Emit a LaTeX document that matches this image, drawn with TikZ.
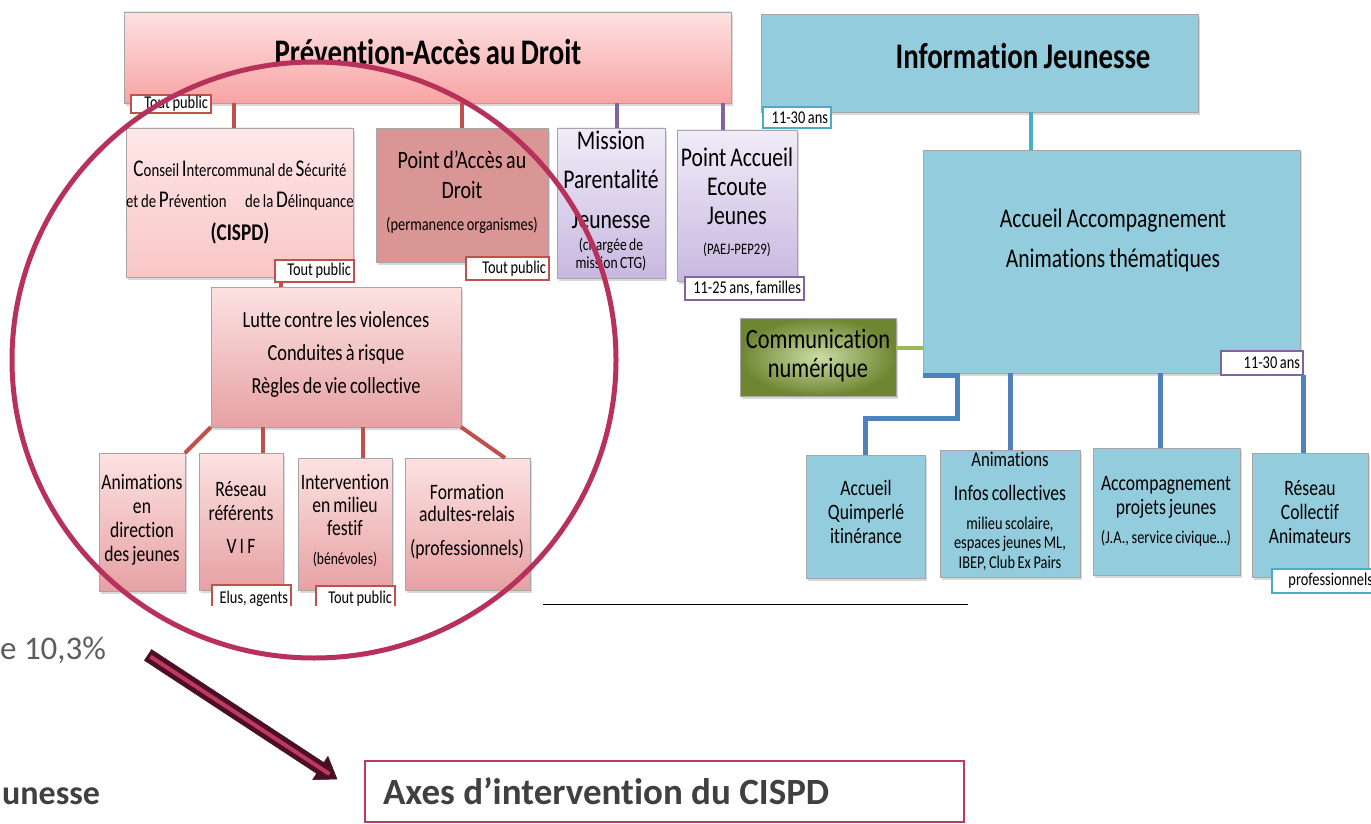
\documentclass[tikz,border=0pt]{standalone}
\usepackage{fontspec}
\setmainfont[Ligatures=NoCommon,RawFeature=-calt,RawFeature=-clig]{Carlito}
\newfontfamily\chartfont[FakeStretch=0.8,WordSpace=0.8,Ligatures=NoCommon,RawFeature=-calt,RawFeature=-clig]{Carlito}
\usetikzlibrary{shadows,calc,shapes.geometric}
\definecolor{pinkTop}{HTML}{FDE2E2}
\definecolor{pinkBot}{HTML}{F8A3A3}
\definecolor{lightTop}{HTML}{FFE7E7}
\definecolor{lightBot}{HTML}{F9C6C6}
\definecolor{midTop}{HTML}{FDE2E2}
\definecolor{midBot}{HTML}{E6A1A3}
\definecolor{rose}{HTML}{D99694}
\definecolor{lavTop}{HTML}{F0ECF8}
\definecolor{lavBot}{HTML}{C8B8E0}
\definecolor{chartblue}{HTML}{93CDDD}
\definecolor{greenIn}{HTML}{CADDA4}
\definecolor{greenOut}{HTML}{6E8632}
\definecolor{boxgray}{HTML}{A6A6A6}
\definecolor{tagred}{HTML}{C0504D}
\definecolor{tagpurple}{HTML}{8064A2}
\definecolor{tagteal}{HTML}{4BACC6}
\definecolor{greenline}{HTML}{9BBB59}
\definecolor{blueline}{HTML}{4F81BD}
\definecolor{circcol}{HTML}{B7315B}
\definecolor{arrowdark}{HTML}{4A0F25}
\definecolor{arrowpink}{HTML}{C0395F}
\definecolor{slidegray}{HTML}{404040}
\newcommand\cf[2]{\chartfont\fontsize{#1}{#2}\selectfont}
\newcommand\ini[1]{{\fontsize{24}{31}\selectfont #1}}
\newcommand\bx[6]{%
  \pgfmathsetmacro\bxw{#4-#2}\pgfmathsetmacro\bxh{#5-#3}%
  \node[#6, minimum width=\bxw pt, minimum height=\bxh pt] (#1) at ({(#2+#4)/2},{(#3+#5)/2}) {};}
\newcommand\tg[7]{%
  \pgfmathsetmacro\tgw{#4-#2}\pgfmathsetmacro\tgh{#5-#3}%
  \node[tagbox, draw=#6, minimum width=\tgw pt, minimum height=\tgh pt] (#1) at ({(#2+#4)/2},{(#3+#5)/2}) {};
  \node[tagtext] (#1T) at ([xshift=-3pt]#1.east) {#7};}
\tikzset{
  every node/.style={inner sep=0pt, outer sep=0pt},
  chartbox/.style={draw=boxgray, line width=0.8pt,
    drop shadow={shadow xshift=2pt, shadow yshift=-3pt, opacity=0.3}},
  pinkhead/.style={chartbox, top color=pinkTop, bottom color=pinkBot},
  pinklight/.style={chartbox, top color=lightTop, bottom color=lightBot},
  pinkmid/.style={chartbox, top color=midTop, bottom color=midBot},
  rosebox/.style={chartbox, fill=rose},
  lavbox/.style={chartbox, top color=lavTop, bottom color=lavBot},
  bluebox/.style={chartbox, fill=chartblue},
  greenbox/.style={chartbox, inner color=greenIn, outer color=greenOut},
  tagbox/.style={fill=white, line width=1.5pt},
  tagtext/.style={anchor=east, font=\cf{18}{20}},
  ct/.style={align=center, anchor=base},
  redline/.style={draw=tagred, line width=4pt},
  purpleline/.style={draw=tagpurple, line width=4pt},
  tealline/.style={draw=tagteal, line width=4pt},
  grline/.style={draw=greenline, line width=4pt},
  bline/.style={draw=blueline, line width=5pt},
  ringstyle/.style={draw=circcol, line width=5pt, ellipse},
}
\begin{document}
\begin{tikzpicture}[x=1pt,y=-1pt]
\useasboundingbox (0,0) rectangle (1371,824);
\fill[white] (0,0) rectangle (1371,824);
\begin{scope}
\clip (0,0) rectangle (1371,605);
% boxes
\bx{prev}{124}{12}{731}{103}{pinkhead}
\bx{info}{761}{14}{1198}{112}{bluebox}
\bx{cispd}{126}{128}{353}{277}{pinklight}
\bx{pad}{376}{128}{548}{262}{rosebox}
\bx{mission}{557}{128}{665}{278}{lavbox}
\bx{paej}{677}{130}{797}{281}{lavbox}
\bx{accueil}{923}{150}{1300}{373}{bluebox}
\bx{comm}{740}{318}{896}{396}{greenbox}
\bx{lutte}{211}{287}{461}{427}{pinkmid}
\bx{anim}{99}{453}{185}{591}{pinkmid}
\bx{reseau}{199}{453}{283}{590}{pinkmid}
\bx{interv}{298}{458}{392}{590}{pinkmid}
\bx{form}{405}{458}{530}{590}{pinkmid}
\bx{aq}{806}{455}{925}{578}{bluebox}
\bx{animinfo}{940}{450}{1080}{577}{bluebox}
\bx{accomp}{1093}{448}{1240}{575}{bluebox}
\bx{rescol}{1252}{453}{1368}{577}{bluebox}
% texts (anchor=base is the baseline of the last line)
\node[ct, font=\cf{36}{40}\bfseries] (prevT) at (428,65) {Prévention-Accès au Droit};
\node[ct, font=\cf{36}{40}\bfseries] (infoT) at (1023,69) {Information Jeunesse};
\node[ct, font=\cf{18.5}{31}] (cispdT) at (240,207) {\ini{C}onseil \ini{I}ntercommunal de \ini{S}écurité\\et de \ini{P}révention\quad de la \ini{D}élinquance};
\node[ct, font=\cf{24}{28}\bfseries] (cispdT2) at (240,240) {(CISPD)};
\node[ct, font=\cf{25}{30}] (padT) at (462,198) {Point d’Accès au\\Droit};
\node[ct, font=\cf{18}{20}] (padT2) at (462,230) {(permanence organismes)};
\node[ct, font=\cf{27}{39.5}] (missionT) at (611,228) {Mission\\Parentalité\\Jeunesse};
\node[ct, font=\cf{17}{18}] (missionT2) at (611,268) {(chargée de\\mission CTG)};
\node[ct, font=\cf{27}{29}] (paejT) at (737,224) {Point Accueil\\Ecoute\\Jeunes};
\node[ct, font=\cf{16}{18}] (paejT2) at (737,254) {(PAEJ-PEP29)};
\node[ct, font=\cf{27}{40}] (accT) at (1113,267) {Accueil Accompagnement\\Animations thématiques};
\node[ct, font=\cf{28}{29}] (commT) at (818,377) {Communication\\numérique};
\node[ct, font=\cf{23}{33}] (lutteT) at (336,393) {Lutte contre les violences\\Conduites à risque\\Règles de vie collective};
\node[ct, font=\cf{22}{23.7}] (animT) at (142,561) {Animations\\en\\direction\\des jeunes};
\node[ct, font=\cf{22}{24}] (reseauT) at (241,520) {Réseau\\référents};
\node[ct, font=\cf{22}{24}] (vifT) at (241,553) {V I F};
\node[ct, font=\cf{22}{23}] (intervT) at (345,535) {Intervention\\en milieu\\festif};
\node[ct, font=\cf{17}{18}] (benevT) at (345,564) {(bénévoles)};
\node[ct, font=\cf{22}{22}] (formT) at (467,521) {Formation\\adultes-relais};
\node[ct, font=\cf{22}{22}] (formT2) at (467,555) {(professionnels)};
\node[ct, font=\cf{22}{24}] (aqT) at (866,543) {Accueil\\Quimperlé\\itinérance};
\node[ct, font=\cf{21}{22}] (aiT1) at (1010,466) {Animations};
\node[ct, font=\cf{22}{22}] (aiT2) at (1010,500) {Infos collectives};
\node[ct, font=\cf{18}{19.5}] (aiT3) at (1010,568) {milieu scolaire,\\espaces jeunes ML,\\IBEP, Club Ex Pairs};
\node[ct, font=\cf{22}{24}] (acT1) at (1166,514) {Accompagnement\\projets jeunes};
\node[ct, font=\cf{18}{20}] (acT2) at (1166,543) {(J.A., service civique…)};
\node[ct, font=\cf{22}{24}] (rcT) at (1310,543) {Réseau\\Collectif\\Animateurs};
% connectors
\coordinate (k1) at ($(cispd.north west)!0.476!(cispd.north east)$);
\draw[redline] (k1) -- (k1 |- prev.south);
\draw[redline] (pad.north) -- (pad.north |- prev.south);
\coordinate (k2) at ($(mission.north west)!0.556!(mission.north east)$);
\draw[purpleline] (k2) -- (k2 |- prev.south);
\coordinate (k3) at ($(paej.north west)!0.383!(paej.north east)$);
\draw[purpleline] (k3) -- (k3 |- prev.south);
\coordinate (k4) at ($(accueil.north west)!0.286!(accueil.north east)$);
\draw[tealline] (k4) -- (k4 |- info.south);
\draw[grline] ([yshift=9pt]comm.east) -- ([yshift=9pt]comm.east -| accueil.west);
\draw[redline] (lutte.south west) -- (anim.north east);
\coordinate (k6) at ($(reseau.north west)!0.76!(reseau.north east)$);
\draw[redline] (k6) -- (k6 |- lutte.south);
\coordinate (k7) at ($(interv.north west)!0.69!(interv.north east)$);
\draw[redline] (k7) -- (k7 |- lutte.south);
\coordinate (k8) at ($(form.north west)!0.8!(form.north east)$);
\draw[redline] (lutte.south east) -- (k8);
\draw[bline] ([yshift=-2pt]accueil.south west) -- ++(34,0) -- ++(0,43) -| (aq.north);
\draw[bline] (animinfo.north) -- (animinfo.north |- accueil.south);
\coordinate (k9) at ($(accomp.north west)!0.46!(accomp.north east)$);
\draw[bline] (k9) -- (k9 |- accueil.south);
% tags
\tg{tp1}{131}{95}{211}{113}{tagred}{Tout public}
\tg{tp2}{275}{260}{354}{282}{tagred}{Tout public}
\tg{tp3}{466}{257}{549}{280}{tagred}{Tout public}
\tg{fam}{685}{277}{804}{300}{tagpurple}{11-25 ans, familles}
\tg{ans1}{763}{107}{831}{128}{tagteal}{11-30 ans}
\tg{ans2}{1221}{351}{1303}{375}{tagpurple}{11-30 ans}
\tg{elus}{212}{585}{291}{612}{tagred}{Elus, agents}
\tg{tp4}{316}{586}{395}{612}{tagred}{Tout public}
\tg{prof}{1272}{569}{1376}{593}{tagteal}{professionnels}
\coordinate (k5) at ($(lutte.north west)!0.28!(lutte.north east)$);
\draw[redline] (k5) -- (k5 |- tp2.south);
\coordinate (k10) at ($(rescol.north west)!0.44!(rescol.north east)$);
\draw[bline] (k10) -- (k10 |- ans2.south);
\end{scope}
\coordinate (u1) at (543,604);
\coordinate (u2) at (968,604);
\draw[black, line width=0.9pt] (u1) -- (u2);
% ring
\node[ringstyle, minimum width=604pt, minimum height=596pt] (ring) at (314,360) {};
% slide text
\node[anchor=base east, font=\fontsize{33}{36}\selectfont, text=slidegray!85] (pct) at (106,659) {e 10,3\%};
\node[anchor=base east, font=\fontsize{34}{38}\selectfont\bfseries, text=slidegray] (jeu) at (100,804) {unesse};
\node[draw=arrowpink, line width=2pt, minimum width=599pt, minimum height=61pt] (axes) at (664.5,791.5) {};
\node[anchor=base west, font=\fontsize{37}{40}\selectfont\bfseries, text=slidegray] (axesT) at (383,804) {Axes d’intervention du CISPD};
% arrow
\coordinate (arA) at (148,655);
\coordinate (arB) at (337,779);
\coordinate (arH) at ($(arB)!20pt!(arA)$);
\filldraw[fill=arrowdark, draw=arrowdark, line width=0.5pt, line join=miter]
  ($(arA)!6.5pt!90:(arB)$) -- ($(arH)!6.5pt!-90:(arA)$) -- ($(arH)!14pt!-90:(arA)$)
  -- (arB) -- ($(arH)!14pt!90:(arA)$) -- ($(arH)!6.5pt!90:(arA)$)
  -- ($(arA)!6.5pt!-90:(arB)$) -- cycle;
\draw[arrowpink, line width=4pt] ($(arA)!3pt!(arB)$) -- ($(arB)!9pt!(arA)$);
\end{tikzpicture}
\end{document}
